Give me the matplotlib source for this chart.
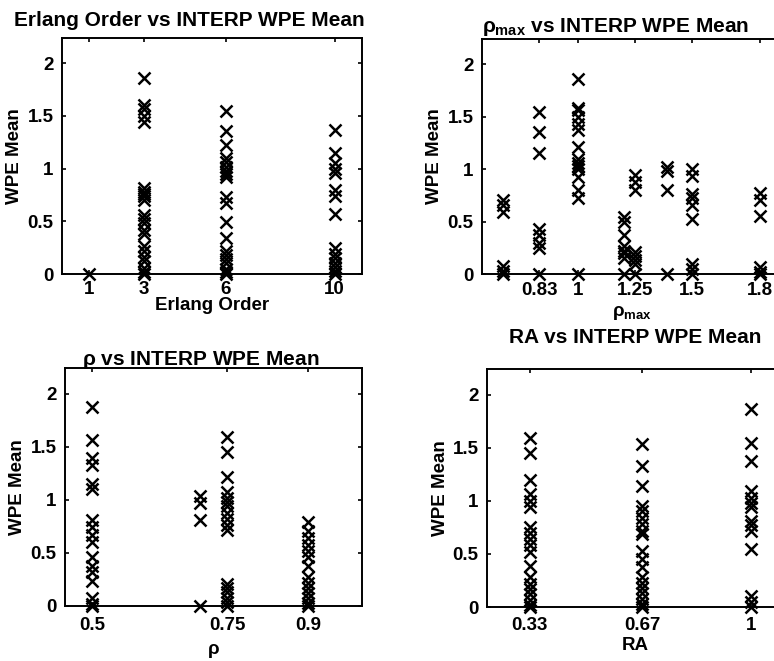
import numpy as np
import matplotlib.pyplot as plt

plt.rcParams['font.family'] = ['Liberation Sans', 'DejaVu Sans']
plt.rcParams['font.weight'] = 'bold'
plt.rcParams['mathtext.fontset'] = 'custom'
plt.rcParams['mathtext.rm'] = 'Liberation Sans:bold'
plt.rcParams['mathtext.it'] = 'Liberation Sans:bold'

# WPE mean vs Erlang order
erlang_1 = [0.0]
erlang_3 = [1.86, 1.60, 1.57, 1.50, 1.44, 0.82, 0.78, 0.76, 0.74, 0.70,
            0.56, 0.52, 0.48, 0.42, 0.38, 0.27, 0.22, 0.16, 0.12, 0.06, 0.02, 0.0]
erlang_6 = [1.55, 1.36, 1.22, 1.10, 1.06, 1.02, 0.98, 0.95, 0.92, 0.73, 0.67,
            0.49, 0.34, 0.22, 0.18, 0.14, 0.10, 0.05, 0.02, 0.0]
erlang_10 = [1.37, 1.15, 1.05, 1.00, 0.96, 0.80, 0.74, 0.57, 0.25,
             0.19, 0.15, 0.10, 0.07, 0.03, 0.0]
erlang_x = [1, 3, 6, 10]
erlang_y = [erlang_1, erlang_3, erlang_6, erlang_10]

# WPE mean vs rho_max
rmax_x = [0.67, 0.83, 1.0, 1.2, 1.25, 1.39, 1.5, 1.8]
rmax_y = [
    [0.71, 0.66, 0.59, 0.08, 0.03, 0.0],
    [1.54, 1.35, 1.15, 0.43, 0.37, 0.30, 0.25, 0.0],
    [1.86, 1.58, 1.56, 1.50, 1.43, 1.37, 1.21, 1.10, 1.06, 1.03, 1.00, 0.92, 0.80, 0.72, 0.0],
    [0.54, 0.50, 0.37, 0.27, 0.22, 0.20, 0.15, 0.0],
    [0.94, 0.88, 0.80, 0.21, 0.17, 0.13, 0.10, 0.0],
    [1.02, 0.98, 0.80, 0.0],
    [1.00, 0.93, 0.76, 0.72, 0.66, 0.52, 0.10, 0.05, 0.0],
    [0.77, 0.71, 0.55, 0.07, 0.02, 0.0],
]
rmax_ticks = [0.83, 1, 1.25, 1.5, 1.8]
rmax_labels = ['0.83', '1', '1.25', '1.5', '1.8']

# WPE mean vs rho
rho_x = [0.5, 0.7, 0.75, 0.9]
rho_y = [
    [1.87, 1.56, 1.39, 1.33, 1.15, 1.10, 0.81, 0.74, 0.67, 0.60,
     0.46, 0.38, 0.32, 0.24, 0.08, 0.02, 0.0],
    [1.04, 0.97, 0.81, 0.0],
    [1.59, 1.45, 1.21, 1.07, 1.02, 0.98, 0.94, 0.88, 0.82, 0.76, 0.72,
     0.21, 0.17, 0.13, 0.08, 0.04, 0.0],
    [0.79, 0.71, 0.64, 0.57, 0.52, 0.46, 0.38, 0.27, 0.22, 0.17, 0.12, 0.08, 0.03, 0.0],
]
rho_ticks = [0.5, 0.75, 0.9]
rho_labels = ['0.5', '0.75', '0.9']

# WPE mean vs RA
ra_x = [0.33, 0.67, 1.0]
ra_y = [
    [1.59, 1.45, 1.20, 1.06, 1.00, 0.94, 0.75, 0.70, 0.64, 0.58, 0.52, 0.39,
     0.28, 0.22, 0.17, 0.12, 0.07, 0.02, 0.0],
    [1.53, 1.33, 1.14, 0.95, 0.90, 0.84, 0.78, 0.72, 0.69, 0.53, 0.45, 0.38,
     0.28, 0.23, 0.18, 0.13, 0.08, 0.03, 0.0],
    [1.86, 1.54, 1.37, 1.09, 1.03, 0.98, 0.94, 0.81, 0.77, 0.72, 0.55, 0.10, 0.05, 0.0],
]
ra_ticks = [0.33, 0.67, 1]
ra_labels = ['0.33', '0.67', '1']

yticks = [0, 0.5, 1, 1.5, 2]
ylabels = ['0', '0.5', '1', '1.5', '2']

W, H = 774, 661
fig = plt.figure(figsize=(W / 100, H / 100), dpi=100)


def make_ax(left, top, right, bottom):
    return fig.add_axes([left / W, 1 - bottom / H, (right - left) / W, (bottom - top) / H])


def draw(ax, xs, groups, xlim, ticks, labels, title, xlabel,
         tx=0.5, tpad=8, tickpad=7, lpad=0):
    for x, ys in zip(xs, groups):
        ax.plot([x] * len(ys), ys, 'x', color='black', ms=8.5, mew=1.8, clip_on=False)
    ax.set_xlim(xlim)
    ax.set_ylim(0, 2.24)
    ax.set_xticks(ticks)
    ax.set_xticklabels(labels)
    ax.set_yticks(yticks)
    ax.set_yticklabels(ylabels)
    ax.tick_params(direction='in', length=3, width=1.2, labelsize=13.5, pad=6,
                   top=True, right=True)
    ax.tick_params(axis='x', pad=tickpad)
    for s in ax.spines.values():
        s.set_linewidth(1.4)
    ax.set_title(title, fontsize=15, fontweight='bold', pad=tpad, x=tx)
    ax.set_xlabel(xlabel, fontsize=13.5, fontweight='bold', labelpad=lpad)
    ax.set_ylabel('WPE Mean', fontsize=13.5, fontweight='bold', labelpad=3)


ax1 = make_ax(62, 38, 362, 274)
draw(ax1, erlang_x, erlang_y, (0, 11), erlang_x, ['1', '3', '6', '10'],
     'Erlang Order vs INTERP WPE Mean', 'Erlang Order',
     tx=0.423, tpad=9, tickpad=5, lpad=-1)

ax2 = make_ax(482, 39, 782, 274)
draw(ax2, rmax_x, rmax_y, (0.579, 1.895), rmax_ticks, rmax_labels,
     r'$\rho_{max}$ vs INTERP WPE Mean', r'$\rho_{max}$',
     tx=0.447, tpad=5, tickpad=6, lpad=3)

ax3 = make_ax(65, 368, 362, 606)
draw(ax3, rho_x, rho_y, (0.45, 1.0), rho_ticks, rho_labels,
     r'$\rho$ vs INTERP WPE Mean', r'$\rho$',
     tx=0.458, tpad=2, tickpad=8, lpad=6)

ax4 = make_ax(487, 369, 784, 607)
draw(ax4, ra_x, ra_y, (0.2, 1.1), ra_ticks, ra_labels,
     'RA vs INTERP WPE Mean', 'RA',
     tx=0.5, tpad=19, tickpad=7, lpad=2)

fig.savefig('out.png', dpi=100)
